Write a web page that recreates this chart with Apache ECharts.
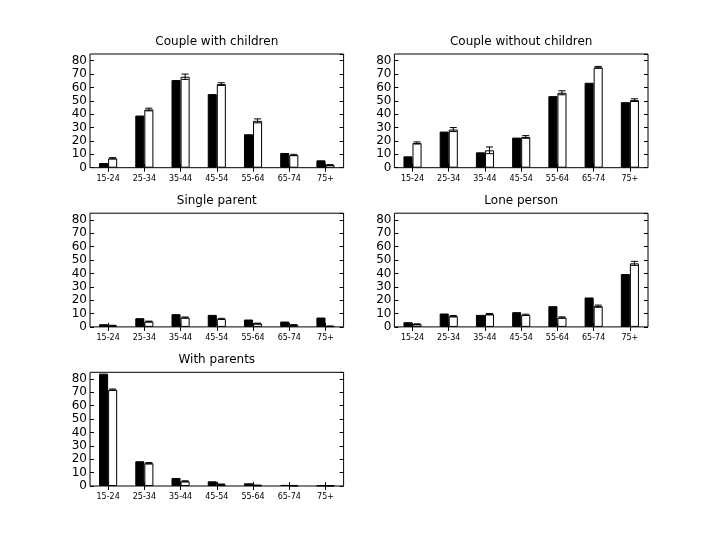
<!DOCTYPE html>
<html>
<head>
<meta charset="utf-8">
<script src="https://cdn.jsdelivr.net/npm/echarts@6/dist/echarts.min.js"></script>
<style>html,body{margin:0;padding:0;background:#fff;}#c{width:720px;height:540px;}</style>
</head>
<body>
<div id="c"></div>
<script>
const categories = ['15-24', '25-34', '35-44', '45-54', '55-64', '65-74', '75+'];
const panelTitles = ['Couple with children', 'Couple without children', 'Single parent', 'Lone person', 'With parents'];
const yTicks = [0, 10, 20, 30, 40, 50, 60, 70, 80];

const coupleChildrenA = [3.5, 39, 65.5, 55, 25, 11, 5.5];
const coupleChildrenB = [7, 43.5, 68, 62.5, 35, 9.5, 2];
const coupleChildrenErr = [0.5, 1, 2, 1, 1.5, 0.5, 0.3];

const coupleNoChildrenA = [8.5, 27, 11.5, 22.5, 53.5, 63.5, 49];
const coupleNoChildrenB = [18.5, 28.5, 13, 23, 56, 75, 50.5];
const coupleNoChildrenErr = [0.8, 1.5, 2.5, 1, 1.5, 0.7, 1];

const singleParentA = [2, 6.5, 9.5, 9, 5.5, 4, 7];
const singleParentB = [1, 4, 7, 6, 2.5, 1.5, 0.5];
const singleParentErr = [0.2, 0.3, 0.4, 0.4, 0.3, 0.2, 0.2];

const lonePersonA = [3.5, 10, 9, 11, 15.5, 22, 39.5];
const lonePersonB = [2, 8, 9.5, 9, 7, 15.5, 47.5];
const lonePersonErr = [0.3, 0.5, 0.5, 0.5, 0.5, 0.8, 1.5];

const withParentsA = [84, 18.5, 6, 3.5, 2, 0.8, 0.3];
const withParentsB = [72, 17, 3.5, 1.2, 0.5, 0.3, 0.2];
const withParentsErr = [0.5, 0.5, 0.4, 0.3, 0.2, 0.1, 0.1];

const panels = [
  [coupleChildrenA, coupleChildrenB, coupleChildrenErr],
  [coupleNoChildrenA, coupleNoChildrenB, coupleNoChildrenErr],
  [singleParentA, singleParentB, singleParentErr],
  [lonePersonA, lonePersonB, lonePersonErr],
  [withParentsA, withParentsB, withParentsErr]
];

const FONT = 'DejaVu Sans';
const colLeft = [90, 394.4];
const rowTop = [54, 213.2, 372.3];
const W = 253.6, H = 113.7;

const grids = [], xAxes = [], yAxes = [], series = [], titles = [];
panels.forEach((p, k) => {
  const col = k % 2, row = Math.floor(k / 2);
  const left = colLeft[col], top = rowTop[row];
  grids.push({left: left, top: top, width: W, height: H, show: true, borderColor: '#000', borderWidth: 1, backgroundColor: 'transparent'});
  titles.push({text: panelTitles[k], left: left + W / 2, top: top - 18, textAlign: 'center', padding: 0,
    textStyle: {fontFamily: FONT, fontSize: 12, fontWeight: 'normal', color: '#000'}});
  const tick = {show: true, inside: true, length: 4, alignWithLabel: true, interval: 0, lineStyle: {color: '#000', width: 1}};
  xAxes.push({type: 'category', gridIndex: k, data: categories, position: 'bottom', boundaryGap: true,
    axisLine: {show: false}, axisTick: tick,
    axisLabel: {fontFamily: FONT, fontSize: 8, color: '#000', margin: 7, interval: 0}, splitLine: {show: false}});
  xAxes.push({type: 'category', gridIndex: k, data: categories, position: 'top', boundaryGap: true,
    axisLine: {show: false}, axisTick: tick, axisLabel: {show: false}, splitLine: {show: false}});
  const ytick = {show: true, inside: true, length: 4, lineStyle: {color: '#000', width: 1}};
  yAxes.push({type: 'value', gridIndex: k, min: 0, max: 85, interval: 10, position: 'left',
    axisLine: {show: false}, axisTick: ytick, splitLine: {show: false},
    axisLabel: {fontFamily: FONT, fontSize: 12, color: '#000', margin: 3, showMaxLabel: false,
      formatter: v => (yTicks.indexOf(v) >= 0 ? String(v) : '')}});
  yAxes.push({type: 'value', gridIndex: k, min: 0, max: 85, interval: 10, position: 'right',
    axisLine: {show: false}, axisTick: ytick, splitLine: {show: false}, axisLabel: {show: false}});
  const xi = 2 * k, yi = 2 * k;
  series.push({type: 'bar', xAxisIndex: xi, yAxisIndex: yi, data: p[0], barWidth: '25%', barGap: '0%',
    itemStyle: {color: '#000', borderColor: '#000', borderWidth: 1}, silent: true, animation: false});
  series.push({type: 'bar', xAxisIndex: xi, yAxisIndex: yi, data: p[1], barWidth: '25%', barGap: '0%',
    itemStyle: {color: '#fff', borderColor: '#000', borderWidth: 1}, silent: true, animation: false});
  series.push({type: 'custom', xAxisIndex: xi, yAxisIndex: yi, silent: true, animation: false, z: 5,
    data: p[1].map((v, i) => [i, v, p[2][i]]),
    encode: {x: 0, y: 1},
    renderItem: function (params, api) {
      const i = api.value(0), v = api.value(1), e = api.value(2);
      const band = api.size([1, 0])[0];
      const lo = api.coord([i, v - e]);
      const hi = api.coord([i, v + e]);
      const x = lo[0] + band * 0.125;
      const cap = 3.5;
      const st = {stroke: '#000', lineWidth: 1};
      return {type: 'group', children: [
        {type: 'line', shape: {x1: x, y1: lo[1], x2: x, y2: hi[1]}, style: st},
        {type: 'line', shape: {x1: x - cap, y1: lo[1], x2: x + cap, y2: lo[1]}, style: st},
        {type: 'line', shape: {x1: x - cap, y1: hi[1], x2: x + cap, y2: hi[1]}, style: st}
      ]};
    }});
});

const chart = echarts.init(document.getElementById('c'), null, {renderer: 'canvas'});
chart.setOption({
  animation: false,
  backgroundColor: '#fff',
  title: titles,
  grid: grids,
  xAxis: xAxes,
  yAxis: yAxes,
  series: series
});
</script>
</body>
</html>
